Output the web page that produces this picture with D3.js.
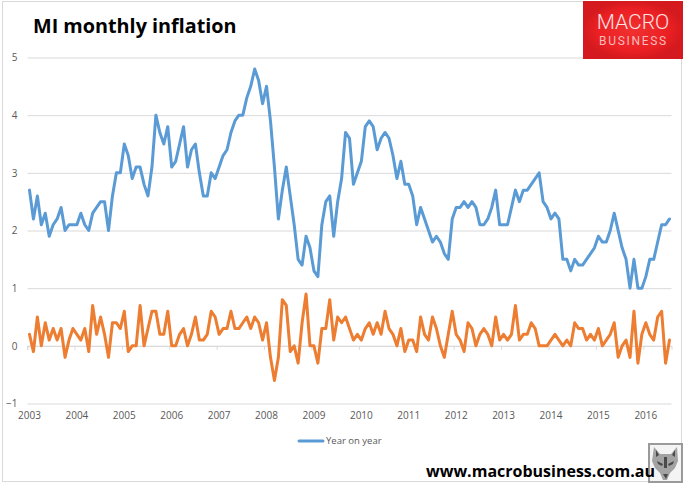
<!DOCTYPE html>
<html>
<head>
<meta charset="utf-8">
<script src="https://cdn.jsdelivr.net/npm/d3@7"></script>
<style>
  html, body { margin: 0; padding: 0; background: #fff; }
  svg { display: block; }
</style>
</head>
<body>
<div id="chart"></div>
<script>
const title = 'MI monthly inflation'
const siteUrl = 'www.macrobusiness.com.au'
const legendLabel = 'Year on year'
const yTicks = [-1, 0, 1, 2, 3, 4, 5]
const years = [2003, 2004, 2005, 2006, 2007, 2008, 2009, 2010, 2011, 2012, 2013, 2014, 2015, 2016]

// one value per month, Jan 2003 to Jul 2016
const yearOnYear = [
  2.7, 2.2, 2.6, 2.1, 2.3, 1.9, 2.1, 2.2, 2.4, 2.0, 2.1, 2.1,
  2.1, 2.3, 2.1, 2.0, 2.3, 2.4, 2.5, 2.5, 2.0, 2.6, 3.0, 3.0,
  3.5, 3.3, 2.9, 3.1, 3.1, 2.8, 2.6, 3.1, 4.0, 3.7, 3.5, 3.8,
  3.1, 3.2, 3.5, 3.8, 3.1, 3.4, 3.5, 3.0, 2.6, 2.6, 3.0, 2.9,
  3.1, 3.3, 3.4, 3.7, 3.9, 4.0, 4.0, 4.3, 4.5, 4.8, 4.6, 4.2,
  4.5, 3.9, 3.1, 2.2, 2.7, 3.1, 2.6, 2.1, 1.5, 1.4, 1.9, 1.7,
  1.3, 1.2, 2.1, 2.5, 2.6, 1.9, 2.5, 2.9, 3.7, 3.6, 2.8, 3.0,
  3.2, 3.8, 3.9, 3.8, 3.4, 3.6, 3.7, 3.6, 3.3, 2.9, 3.2, 2.8,
  2.8, 2.6, 2.1, 2.4, 2.2, 2.0, 1.8, 1.9, 1.8, 1.6, 1.5, 2.2,
  2.4, 2.4, 2.5, 2.4, 2.5, 2.4, 2.1, 2.1, 2.2, 2.4, 2.7, 2.1,
  2.1, 2.1, 2.4, 2.7, 2.5, 2.7, 2.7, 2.8, 2.9, 3.0, 2.5, 2.4,
  2.2, 2.3, 2.2, 1.5, 1.5, 1.3, 1.5, 1.4, 1.4, 1.5, 1.6, 1.7,
  1.9, 1.8, 1.8, 2.0, 2.3, 2.0, 1.7, 1.5, 1.0, 1.5, 1.0, 1.0,
  1.2, 1.5, 1.5, 1.8, 2.1, 2.1, 2.2
]

const monthOnMonth = [
  0.2, -0.1, 0.5, 0.0, 0.4, 0.1, 0.3, 0.1, 0.3, -0.2, 0.1, 0.3,
  0.2, 0.1, 0.3, -0.1, 0.7, 0.2, 0.5, 0.2, -0.2, 0.4, 0.4, 0.3,
  0.6, -0.1, 0.0, 0.0, 0.7, 0.0, 0.3, 0.6, 0.6, 0.2, 0.2, 0.6,
  0.0, 0.0, 0.2, 0.3, 0.0, 0.2, 0.5, 0.1, 0.1, 0.2, 0.6, 0.5,
  0.2, 0.3, 0.3, 0.6, 0.3, 0.3, 0.4, 0.5, 0.3, 0.5, 0.4, 0.1,
  0.4, -0.2, -0.6, -0.2, 0.8, 0.7, -0.1, 0.0, -0.3, 0.4, 0.9, 0.0,
  0.0, -0.3, 0.3, 0.3, 0.8, 0.1, 0.5, 0.4, 0.5, 0.3, 0.1, 0.2,
  0.1, 0.3, 0.4, 0.2, 0.4, 0.2, 0.6, 0.3, 0.2, 0.0, 0.3, -0.1,
  0.1, 0.1, -0.1, 0.5, 0.2, 0.1, 0.5, 0.3, 0.0, -0.2, 0.2, 0.6,
  0.2, 0.1, -0.1, 0.4, 0.3, 0.0, 0.2, 0.3, 0.2, 0.0, 0.5, 0.1,
  0.2, 0.1, 0.2, 0.7, 0.1, 0.2, 0.2, 0.4, 0.3, 0.0, 0.0, 0.0,
  0.1, 0.2, 0.1, 0.0, 0.1, 0.0, 0.4, 0.3, 0.3, 0.1, 0.2, 0.1,
  0.3, 0.0, 0.1, 0.2, 0.4, -0.2, 0.0, 0.1, -0.2, 0.6, -0.3, 0.2,
  0.4, 0.2, 0.1, 0.5, 0.6, -0.3, 0.1
]

const width = 684
const height = 484
const blue = '#5b9bd5'
const orange = '#ed7d31'
const textGrey = '#595959'
const gridGrey = '#d9d9d9'

const svg = d3.select('#chart')
  .append('svg')
  .attr('width', width)
  .attr('height', height)
  .style('font-family', '"Open Sans", sans-serif')

// outer chart frame
svg.append('rect')
  .attr('x', 2.5)
  .attr('y', 1.5)
  .attr('width', 679)
  .attr('height', 480)
  .attr('fill', '#fff')
  .attr('stroke', gridGrey)

const x = d3.scaleBand()
  .domain(d3.range(yearOnYear.length))
  .range([27.5, 671.5])

const y = d3.scaleLinear()
  .domain([-1, 5])
  .range([403.5, 57.5])

// gridlines and y labels
svg.append('g')
  .attr('transform', 'translate(27.5, 0)')
  .call(d3.axisLeft(y).tickValues(yTicks).tickSize(-644).tickPadding(10).tickFormat(d3.format('d')))
  .call(g => g.select('.domain').remove())
  .call(g => g.selectAll('line').attr('stroke', gridGrey).attr('stroke-width', 1))
  .call(g => g.selectAll('text').attr('fill', textGrey).attr('font-size', 10).attr('font-family', '"Open Sans", sans-serif'))

// x axis crosses at zero, labels sit low
const yearStarts = years.map((d, i) => i * 12)
svg.append('g')
  .attr('transform', `translate(0, ${y(0)})`)
  .call(d3.axisBottom(x).tickValues(yearStarts).tickSize(4).tickFormat(i => years[i / 12]))
  .call(g => g.select('.domain').attr('stroke', gridGrey))
  .call(g => g.selectAll('line').attr('stroke', gridGrey).attr('x1', -x.bandwidth() / 2).attr('x2', -x.bandwidth() / 2))
  .call(g => g.selectAll('text').attr('fill', textGrey).attr('font-size', 10).attr('font-family', '"Open Sans", sans-serif').attr('y', 70).attr('dy', '0.32em'))

const line = d3.line()
  .x((d, i) => x(i) + x.bandwidth() / 2)
  .y(d => y(d))
  .curve(d3.curveLinear)

for (const [values, color] of [[yearOnYear, blue], [monthOnMonth, orange]]) {
  svg.append('path')
    .datum(values)
    .attr('fill', 'none')
    .attr('stroke', color)
    .attr('stroke-width', 3)
    .attr('stroke-linejoin', 'round')
    .attr('stroke-linecap', 'round')
    .attr('d', line)
}

// legend
svg.append('line')
  .attr('x1', 299)
  .attr('x2', 323)
  .attr('y1', 441)
  .attr('y2', 441)
  .attr('stroke', blue)
  .attr('stroke-width', 3)
  .attr('stroke-linecap', 'round')

svg.append('text')
  .attr('x', 326)
  .attr('y', 444)
  .attr('font-size', 9.5)
  .attr('fill', textGrey)
  .text(legendLabel)

svg.append('text')
  .attr('x', 33)
  .attr('y', 33)
  .attr('font-size', 19.8)
  .attr('font-weight', 700)
  .attr('fill', '#000')
  .text(title)

// red logo
const defs = svg.append('defs')
const glow = defs.append('radialGradient').attr('id', 'logoRed')
glow.append('stop').attr('offset', '0%').attr('stop-color', '#f03030')
glow.append('stop').attr('offset', '70%').attr('stop-color', '#ec2024')
glow.append('stop').attr('offset', '100%').attr('stop-color', '#d41a1e')

svg.append('rect')
  .attr('x', 583)
  .attr('y', 1)
  .attr('width', 100)
  .attr('height', 58)
  .attr('fill', 'url(#logoRed)')

svg.append('text')
  .attr('x', 633)
  .attr('y', 29)
  .attr('text-anchor', 'middle')
  .attr('font-family', 'Roboto, sans-serif')
  .attr('font-weight', 300)
  .attr('font-size', 21)
  .attr('fill', '#fbe3e3')
  .text('MACRO')

svg.append('text')
  .attr('x', 633.5)
  .attr('y', 45)
  .attr('text-anchor', 'middle')
  .attr('font-family', 'Roboto, sans-serif')
  .attr('font-size', 12)
  .attr('letter-spacing', 1.7)
  .attr('fill', '#f7bcbc')
  .text('BUSINESS')

// wolf badge
const badge = svg.append('g').attr('transform', 'translate(648, 443)')
badge.append('rect')
  .attr('x', 1)
  .attr('y', 1)
  .attr('width', 33)
  .attr('height', 38)
  .attr('fill', '#f4f4f4')
  .attr('stroke', '#9a9a9a')
  .attr('stroke-width', 2)
badge.append('path')
  .attr('d', 'M6 4 L12 11 L23 11 L29 4 L30 18 L27 25 L22 30 L19 37 L15 37 L12 30 L7 25 L4 18 Z')
  .attr('fill', '#a3a3a3')
badge.append('path')
  .attr('d', 'M8 7 L11 12 L8 14 Z M27 7 L24 12 L27 14 Z M9 18 L15 21 L14 23 L10 21 Z M26 18 L20 21 L21 23 L25 21 Z M15 31 L20 31 L18 36 Z M16 14 L19 14 L19 25 L16 25 Z')
  .attr('fill', '#4a4a4a')

// site address sits on top of the badge, squeezed to the original's narrower width
svg.append('text')
  .attr('x', 426)
  .attr('y', 477)
  .attr('font-size', 16.4)
  .attr('font-weight', 700)
  .attr('fill', '#000')
  .attr('textLength', 229)
  .attr('lengthAdjust', 'spacingAndGlyphs')
  .text(siteUrl)
</script>
</body>
</html>
